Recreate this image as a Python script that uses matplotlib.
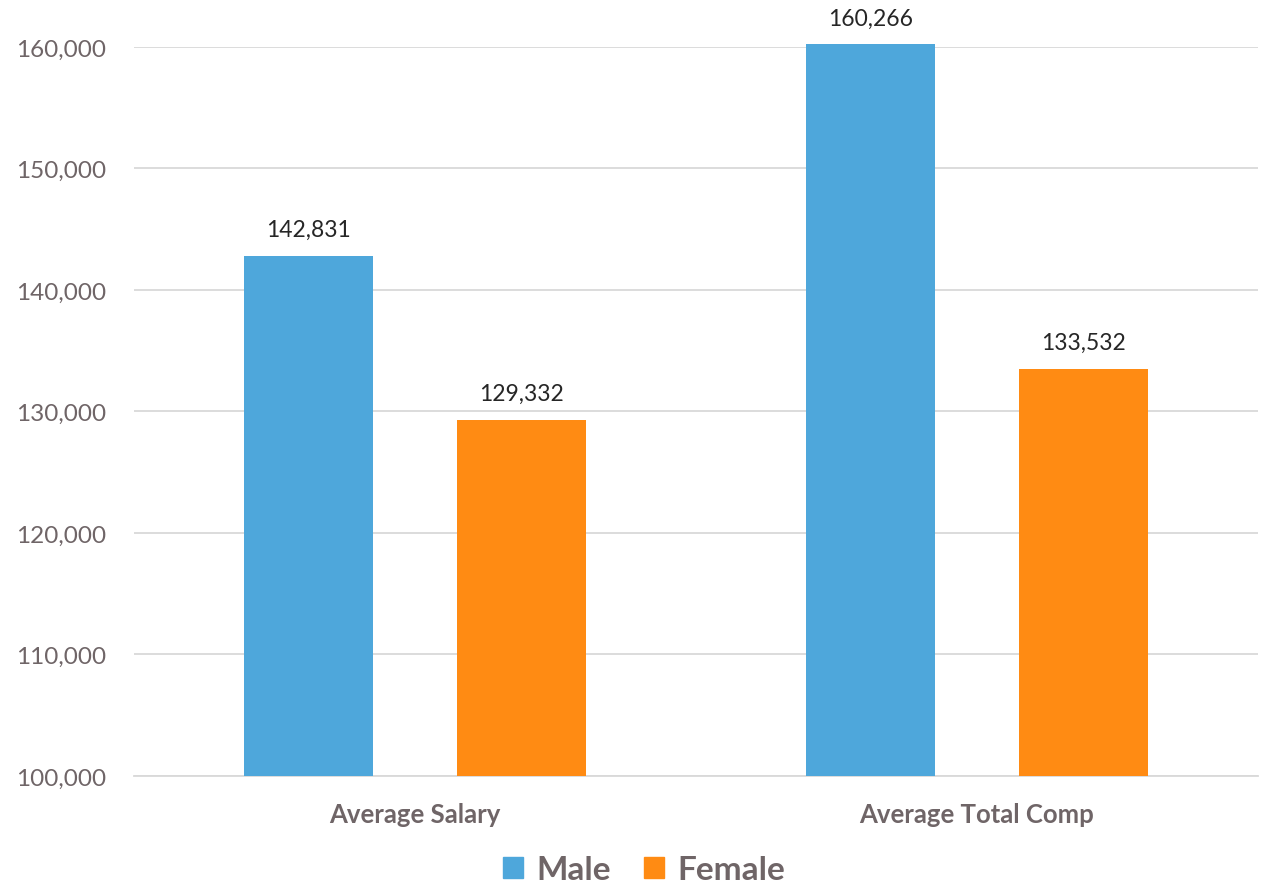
import matplotlib.pyplot as plt
import numpy as np
from matplotlib.ticker import FuncFormatter
from matplotlib.patches import Patch

# data
categories = ["Average Salary", "Average Total Comp"]
male = [142831, 160266]
female = [129332, 133532]
base = 100000

blue = "#4EA7DB"
orange = "#FF8B13"
gray = "#6F6567"

plt.rcParams["font.family"] = ["Lato", "DejaVu Sans"]

fig = plt.figure(figsize=(12.63, 8.87), dpi=100)
ax = fig.add_axes([134 / 1263, 1 - 777 / 887, 1124 / 1263, 729 / 887])

x = np.arange(len(categories))
w = 0.23
off = 0.19

# bars start at the axis floor so nothing hangs below it
b1 = ax.bar(x - off, np.array(male) - base, w, bottom=base, color=blue,
            zorder=3, clip_on=False)
b2 = ax.bar(x + off, np.array(female) - base, w, bottom=base, color=orange,
            zorder=3, clip_on=False)

for bars, vals in ((b1, male), (b2, female)):
    for rect, v in zip(bars, vals):
        ax.annotate(f"{v:,}", (rect.get_x() + rect.get_width() / 2, v),
                    xytext=(0, 11), textcoords="offset points",
                    ha="center", va="bottom", fontsize=16.5, color="#262626",
                    annotation_clip=False)

ax.set_xlim(-0.5, 1.5)
ax.set_ylim(base, 160000)
ax.set_yticks(range(base, 160001, 10000))
ax.yaxis.set_major_formatter(FuncFormatter(lambda v, p: f"{int(v):,}"))
ax.set_xticks(x)
ax.set_xticklabels(categories, fontweight="bold")

ax.grid(axis="y", color="#D9D9D9", linewidth=1.3, zorder=0)
ax.tick_params(axis="y", length=0, pad=20, labelsize=17.5, labelcolor=gray)
ax.tick_params(axis="x", length=0, pad=19, labelsize=18.5, labelcolor=gray)
for s in ["top", "right", "left"]:
    ax.spines[s].set_visible(False)
ax.spines["bottom"].set_color("#D9D9D9")
ax.spines["bottom"].set_linewidth(1.3)

handles = [Patch(color=blue, label="Male"), Patch(color=orange, label="Female")]
fig.legend(handles=handles, loc="center", bbox_to_anchor=(0.51, 1 - 871 / 887),
           ncol=2, frameon=False, prop={"weight": "bold", "size": 24},
           labelcolor=gray, handlelength=0.6, handleheight=0.6,
           handletextpad=0.4, columnspacing=1.0)

fig.savefig("out.png", dpi=100)
